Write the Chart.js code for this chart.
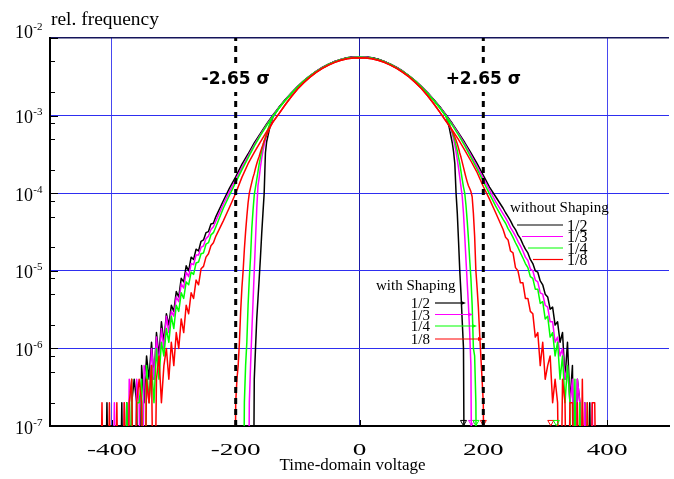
<!DOCTYPE html>
<html>
<head>
<meta charset="utf-8">
<script src="https://cdn.jsdelivr.net/npm/chart.js@4.4.1/dist/chart.umd.min.js"></script>
<style>
  html, body { margin: 0; padding: 0; background: #fff; }
  #wrap { width: 674px; height: 479px; position: relative; }
</style>
</head>
<body>
<div id="wrap"><canvas id="chart"></canvas></div>
<script>
// Amplitude histograms of the time-domain voltage, with and without shaping,
// for code rates 1/2, 1/3, 1/4, 1/8. Zero-count bins are stored as 0.

const RATES  = ['1/2', '1/3', '1/4', '1/8'];
const COLORS = ['#000000', '#ff00ff', '#00ff00', '#ff0000'];

const X_TICKS = [-400, -200, 0, 200, 400];
const Y_TICKS = [1e-7, 1e-6, 1e-5, 1e-4, 1e-3, 1e-2];
const Y_MINOR = [5e-3, 2e-3, 8e-4, 5e-4, 2e-4, 8e-5, 5e-5, 2e-5, 8e-6, 5e-6, 2e-6, 8e-7, 5e-7, 2e-7];

const SIGMA_X      = [-200, 200];
const SIGMA_LABELS = ['-2.65 σ', '+2.65 σ'];

// right-hand bins where the curves leave the plot at the bottom
const CLIP_X      = [168, 181, 188, 200, 309, 318];
const CLIP_COLORS = ['#000000', '#ff00ff', '#00ff00', '#ff0000', '#ff0000', '#00ff00'];
const CLIP_LEVEL  = 1.12e-7;

// bin centres, without shaping
const X_WIDE = [
  -420, -416, -412, -408, -404, -400, -396, -392, -388, -384,
  -380, -376, -372, -368, -364, -360, -356, -352, -348, -344,
  -340, -336, -332, -328, -324, -320, -316, -312, -308, -304,
  -300, -296, -292, -288, -284, -280, -276, -272, -268, -264,
  -260, -256, -252, -248, -244, -240, -236, -232,
  -220, -210, -200, -190, -180, -170, -160, -150, -140, -130, -120,
  -110, -100, -90, -80, -70, -60, -50, -40, -30, -20, -10,
  0,
  10, 20, 30, 40, 50, 60, 70, 80, 90, 100, 110,
  120, 130, 140, 150, 160, 170, 180, 190, 200, 210, 220,
  232, 236, 240, 244, 248, 252, 256, 260, 264, 268,
  272, 276, 280, 284, 288, 292, 296, 300, 304, 308,
  312, 316, 320, 324, 328, 332, 336, 340, 344, 348,
  352, 356, 360, 364, 368, 372, 376, 380, 384, 388, 392,
];

const NS_HALF = [
  0, 0, 0, 2e-7, 0, 0, 0, 0, 0, 2e-7,
  0, 2e-7, 0, 2e-7, 4e-7, 2e-7, 0, 6e-7, 2e-7, 8e-7,
  4e-7, 1.2e-6, 4e-7, 1.6e-6, 8e-7, 2.2e-6, 1.2e-6, 2.8e-6, 2e-6, 3.6e-6,
  3e-6, 5.4e-6, 4.6e-6, 8e-6, 7.2e-6, 1.16e-5, 1.0e-5, 1.5e-5, 1.4e-5, 1.9e-5,
  1.8e-5, 2.4e-5, 2.5e-5, 3.1e-5, 3.2e-5, 4e-5, 4.1e-5, 5e-5,
  8.0e-5, 1.16e-4, 1.62e-4, 2.35e-4, 3.2e-4, 4.45e-4, 5.9e-4, 7.8e-4, 1.01e-3, 1.28e-3, 1.6e-3,
  1.96e-3, 2.37e-3, 2.8e-3, 3.26e-3, 3.72e-3, 4.18e-3, 4.6e-3, 5.0e-3, 5.3e-3, 5.55e-3, 5.7e-3,
  5.75e-3,
  5.7e-3, 5.56e-3, 5.32e-3, 4.98e-3, 4.61e-3, 4.17e-3, 3.73e-3, 3.25e-3, 2.81e-3, 2.36e-3, 1.97e-3,
  1.6e-3, 1.29e-3, 1.02e-3, 7.9e-4, 6.0e-4, 4.5e-4, 3.3e-4, 2.4e-4, 1.7e-4, 1.2e-4, 9.0e-5,
  6.4e-5, 5.6e-5, 5e-5, 4.4e-5, 3.8e-5, 3.4e-5, 2.9e-5, 2.6e-5, 2.2e-5, 1.9e-5,
  1.7e-5, 1.4e-5, 1.24e-5, 1.0e-5, 9.6e-6, 7.4e-6, 6.6e-6, 5e-6, 4.6e-6, 3.2e-6,
  3.4e-6, 2e-6, 2.2e-6, 1.2e-6, 1.6e-6, 4e-7, 1.2e-6, 2e-7, 6e-7, 0,
  4e-7, 2e-7, 0, 2e-7, 0, 2e-7, 0, 0, 0, 0, 0,
];

const NS_THIRD = [
  0, 0, 0, 0, 0, 0, 2e-7, 0, 0, 0,
  2e-7, 0, 4e-7, 2e-7, 0, 4e-7, 2e-7, 0, 6e-7, 4e-7,
  2e-7, 1e-6, 4e-7, 1.4e-6, 6e-7, 1.8e-6, 1e-6, 2.6e-6, 1.6e-6, 3e-6,
  2.6e-6, 4.6e-6, 4e-6, 6.8e-6, 6e-6, 9.6e-6, 8.4e-6, 1.24e-5, 1.2e-5, 1.6e-5,
  1.6e-5, 2e-5, 2.1e-5, 2.6e-5, 2.8e-5, 3.4e-5, 3.7e-5, 4.4e-5,
  7.2e-5, 1.05e-4, 1.5e-4, 2.15e-4, 3.0e-4, 4.2e-4, 5.7e-4, 7.6e-4, 9.9e-4, 1.26e-3, 1.58e-3,
  1.94e-3, 2.35e-3, 2.79e-3, 3.24e-3, 3.7e-3, 4.15e-3, 4.57e-3, 4.95e-3, 5.27e-3, 5.5e-3, 5.63e-3,
  5.68e-3,
  5.64e-3, 5.5e-3, 5.26e-3, 4.95e-3, 4.58e-3, 4.14e-3, 3.7e-3, 3.23e-3, 2.79e-3, 2.35e-3, 1.95e-3,
  1.58e-3, 1.27e-3, 1.0e-3, 7.7e-4, 5.8e-4, 4.3e-4, 3.1e-4, 2.2e-4, 1.56e-4, 1.1e-4, 7.8e-5,
  5.4e-5, 4.8e-5, 4.2e-5, 3.6e-5, 3.2e-5, 2.8e-5, 2.4e-5, 2.1e-5, 1.8e-5, 1.5e-5,
  1.36e-5, 1.06e-5, 1.0e-5, 7.6e-6, 7.2e-6, 5.2e-6, 5e-6, 3.6e-6, 3.4e-6, 2.2e-6,
  2.2e-6, 1.2e-6, 1.4e-6, 8e-7, 1e-6, 4e-7, 6e-7, 2e-7, 4e-7, 0,
  4e-7, 2e-7, 0, 2e-7, 0, 0, 2e-7, 0, 0, 0, 0,
];

const NS_QUARTER = [
  0, 0, 0, 0, 0, 0, 0, 0, 0, 0,
  0, 2e-7, 0, 4e-7, 0, 2e-7, 2e-7, 4e-7, 0, 6e-7,
  2e-7, 6e-7, 2e-7, 1e-6, 4e-7, 1.2e-6, 8e-7, 1.8e-6, 1.2e-6, 2.6e-6,
  1.8e-6, 3.6e-6, 3e-6, 5.2e-6, 4.4e-6, 7.2e-6, 6.6e-6, 9.6e-6, 9e-6, 1.26e-5,
  1.3e-5, 1.66e-5, 1.7e-5, 2.2e-5, 2.3e-5, 2.9e-5, 3.1e-5, 3.7e-5,
  6.4e-5, 9.4e-5, 1.38e-4, 2.0e-4, 2.85e-4, 4.05e-4, 5.55e-4, 7.45e-4, 9.75e-4, 1.25e-3, 1.57e-3,
  1.93e-3, 2.34e-3, 2.78e-3, 3.23e-3, 3.69e-3, 4.13e-3, 4.55e-3, 4.93e-3, 5.25e-3, 5.48e-3, 5.61e-3,
  5.65e-3,
  5.61e-3, 5.48e-3, 5.24e-3, 4.93e-3, 4.55e-3, 4.13e-3, 3.69e-3, 3.23e-3, 2.78e-3, 2.34e-3, 1.93e-3,
  1.57e-3, 1.25e-3, 9.8e-4, 7.5e-4, 5.6e-4, 4.1e-4, 2.9e-4, 2.05e-4, 1.42e-4, 9.8e-5, 6.8e-5,
  4.6e-5, 4.1e-5, 3.5e-5, 3.1e-5, 2.7e-5, 2.3e-5, 2e-5, 1.7e-5, 1.46e-5, 1.24e-5,
  1.1e-5, 8.4e-6, 8e-6, 5.8e-6, 5.8e-6, 3.8e-6, 4e-6, 2.4e-6, 2.6e-6, 1.4e-6,
  1.6e-6, 8e-7, 1.2e-6, 4e-7, 8e-7, 2e-7, 6e-7, 2e-7, 0, 4e-7,
  0, 2e-7, 0, 0, 2e-7, 0, 0, 0, 0, 0, 0,
];

const NS_EIGHTH = [
  0, 2e-7, 0, 0, 2e-7, 0, 0, 2e-7, 0, 0,
  2e-7, 0, 2e-7, 4e-7, 0, 2e-7, 4e-7, 2e-7, 0, 4e-7,
  2e-7, 6e-7, 0, 4e-7, 8e-7, 2e-7, 6e-7, 1e-6, 4e-7, 1.2e-6,
  6e-7, 1.6e-6, 1e-6, 2.4e-6, 1.6e-6, 3.6e-6, 2.8e-6, 5.2e-6, 4.4e-6, 7.6e-6,
  6.6e-6, 1.06e-5, 1.14e-5, 1.5e-5, 1.66e-5, 2.1e-5, 2.3e-5, 2.8e-5,
  4.4e-5, 6.6e-5, 1.0e-4, 1.6e-4, 2.4e-4, 3.35e-4, 4.6e-4, 6.2e-4, 8.2e-4, 1.06e-3, 1.38e-3,
  1.76e-3, 2.2e-3, 2.66e-3, 3.13e-3, 3.6e-3, 4.05e-3, 4.47e-3, 4.85e-3, 5.16e-3, 5.4e-3, 5.53e-3,
  5.58e-3,
  5.54e-3, 5.4e-3, 5.17e-3, 4.86e-3, 4.48e-3, 4.06e-3, 3.61e-3, 3.15e-3, 2.68e-3, 2.23e-3, 1.8e-3,
  1.42e-3, 1.1e-3, 8.5e-4, 6.5e-4, 4.9e-4, 3.6e-4, 2.6e-4, 1.85e-4, 1.22e-4, 8.4e-5, 5.6e-5,
  3.4e-5, 2.7e-5, 2.5e-5, 1.8e-5, 1.7e-5, 1.1e-5, 1.0e-5, 7e-6, 7e-6, 4.4e-6,
  4.4e-6, 3e-6, 2.8e-6, 1.4e-6, 1.6e-6, 6e-7, 1.2e-6, 4e-7, 6e-7, 8e-7,
  2e-7, 4e-7, 2e-7, 0, 4e-7, 2e-7, 0, 2e-7, 2e-7, 0,
  2e-7, 0, 4e-7, 0, 2e-7, 0, 2e-7, 2e-7, 0, 0, 0,
];

// bin centres, with shaping
const X_SHAPED = [
  -212, -206, -202, -200, -198, -196, -194, -192, -190, -188,
  -186, -184, -182, -180, -178, -176, -174, -172, -170, -168,
  -166, -164, -162, -160, -158, -156, -154, -152, -150, -145, -140,
  -130, -120, -110, -100, -90, -80, -70, -60, -50, -40, -30, -20, -10,
  0,
  10, 20, 30, 40, 50, 60, 70, 80, 90, 100, 110, 120, 130,
  140, 145, 150, 152, 154, 156, 158, 160, 162, 164, 166,
  168, 170, 172, 174, 176, 178, 180, 182, 184, 186,
  188, 190, 192, 194, 196, 198, 200, 202, 206, 212,
];

const S_HALF = [
  0, 0, 0, 0, 0, 0, 0, 0, 0, 0,
  0, 0, 0, 0, 0, 0, 0, 0, 4e-7, 1.0e-6,
  2.4e-6, 4.4e-6, 8e-6, 1.5e-5, 3.0e-5, 5.5e-5, 1.0e-4, 3.3e-4, 4.6e-4, 7.0e-4, 9.5e-4,
  1.28e-3, 1.6e-3, 1.96e-3, 2.37e-3, 2.8e-3, 3.26e-3, 3.72e-3, 4.18e-3, 4.6e-3, 5.0e-3, 5.3e-3, 5.55e-3, 5.7e-3,
  5.75e-3,
  5.7e-3, 5.56e-3, 5.32e-3, 4.98e-3, 4.61e-3, 4.17e-3, 3.73e-3, 3.25e-3, 2.81e-3, 2.36e-3, 1.97e-3, 1.6e-3, 1.29e-3,
  9.8e-4, 7.0e-4, 4.4e-4, 3.4e-4, 2.4e-4, 1.0e-4, 5.5e-5, 2.4e-5, 1.0e-5, 5e-6, 2.2e-6,
  1e-6, 0, 0, 0, 0, 0, 0, 0, 0, 0,
  0, 0, 0, 0, 0, 0, 0, 0, 0, 0,
];

const S_THIRD = [
  0, 0, 0, 0, 0, 0, 0, 0, 0, 0,
  0, 0, 0, 0, 2e-7, 6e-7, 1.6e-6, 4e-6, 1.0e-5, 2.5e-5,
  6.3e-5, 1.25e-4, 1.6e-4, 2.2e-4, 2.8e-4, 3.5e-4, 4.2e-4, 4.9e-4, 5.6e-4, 7.6e-4, 9.6e-4,
  1.26e-3, 1.58e-3, 1.94e-3, 2.35e-3, 2.79e-3, 3.24e-3, 3.7e-3, 4.15e-3, 4.57e-3, 4.95e-3, 5.27e-3, 5.5e-3, 5.63e-3,
  5.68e-3,
  5.64e-3, 5.5e-3, 5.26e-3, 4.95e-3, 4.58e-3, 4.14e-3, 3.7e-3, 3.23e-3, 2.79e-3, 2.35e-3, 1.95e-3, 1.58e-3, 1.27e-3,
  9.8e-4, 7.8e-4, 5.8e-4, 5.0e-4, 4.2e-4, 3.4e-4, 2.7e-4, 2.1e-4, 1.6e-4, 1.2e-4, 9e-5,
  5.5e-5, 2.8e-5, 1.4e-5, 7e-6, 3.6e-6, 1.6e-6, 6e-7, 0, 0, 0,
  0, 0, 0, 0, 0, 0, 0, 0, 0, 0,
];

const S_QUARTER = [
  0, 0, 0, 0, 0, 0, 0, 0, 0, 0,
  2e-7, 6e-7, 1.2e-6, 3.6e-6, 8e-6, 1.5e-5, 3.5e-5, 6e-5, 9.5e-5, 1.2e-4,
  1.5e-4, 1.9e-4, 2.4e-4, 2.9e-4, 3.5e-4, 4.1e-4, 4.7e-4, 5.3e-4, 6.0e-4, 7.8e-4, 9.7e-4,
  1.25e-3, 1.57e-3, 1.93e-3, 2.34e-3, 2.78e-3, 3.23e-3, 3.69e-3, 4.13e-3, 4.55e-3, 4.93e-3, 5.25e-3, 5.48e-3, 5.61e-3,
  5.65e-3,
  5.61e-3, 5.48e-3, 5.24e-3, 4.93e-3, 4.55e-3, 4.13e-3, 3.69e-3, 3.23e-3, 2.78e-3, 2.34e-3, 1.93e-3, 1.57e-3, 1.25e-3,
  9.7e-4, 7.9e-4, 6.1e-4, 5.4e-4, 4.8e-4, 4.1e-4, 3.5e-4, 2.9e-4, 2.4e-4, 1.9e-4, 1.5e-4,
  1.2e-4, 1.0e-4, 7e-5, 4.4e-5, 2.6e-5, 1.4e-5, 8e-6, 3.6e-6, 1.0e-6, 8e-7,
  2e-7, 0, 0, 0, 0, 0, 0, 0, 0, 0,
];

const S_EIGHTH = [
  0, 0, 0, 2e-7, 4e-7, 6e-7, 1.2e-6, 3e-6, 6e-6, 1.0e-5,
  1.9e-5, 3.2e-5, 5e-5, 7.5e-5, 1.0e-4, 1.18e-4, 1.38e-4, 1.6e-4, 1.8e-4, 2.1e-4,
  2.4e-4, 2.7e-4, 3.0e-4, 3.4e-4, 3.8e-4, 4.2e-4, 4.7e-4, 5.1e-4, 5.6e-4, 6.9e-4, 8.3e-4,
  1.06e-3, 1.38e-3, 1.76e-3, 2.2e-3, 2.66e-3, 3.13e-3, 3.6e-3, 4.05e-3, 4.47e-3, 4.85e-3, 5.16e-3, 5.4e-3, 5.53e-3,
  5.58e-3,
  5.54e-3, 5.4e-3, 5.17e-3, 4.86e-3, 4.48e-3, 4.06e-3, 3.61e-3, 3.15e-3, 2.68e-3, 2.23e-3, 1.8e-3, 1.42e-3, 1.1e-3,
  8.4e-4, 7.4e-4, 6.3e-4, 5.8e-4, 5.3e-4, 4.8e-4, 4.3e-4, 3.8e-4, 3.3e-4, 2.9e-4, 2.5e-4,
  2.15e-4, 1.85e-4, 1.6e-4, 1.4e-4, 1.25e-4, 1.15e-4, 1.05e-4, 9e-5, 5.5e-5, 2.8e-5,
  1.0e-5, 6e-6, 3.4e-6, 1.6e-6, 8e-7, 4e-7, 2e-7, 0, 0, 0,
];

const NS_SERIES = [NS_HALF, NS_THIRD, NS_QUARTER, NS_EIGHTH];
const S_SERIES  = [S_HALF, S_THIRD, S_QUARTER, S_EIGHTH];

// empty bins have no log; put them under the axis floor so the line drops out
const EMPTY_BIN = 1e-9;
function points(xs, ys) {
  return xs.map((x, i) => ({ x, y: ys[i] > 0 ? ys[i] : EMPTY_BIN }));
}

const SERIF = '"Liberation Serif", "Times New Roman", serif';

const datasets = [];
SIGMA_X.forEach(sx => {
  datasets.push({
    data: [{ x: sx, y: Y_TICKS[0] }, { x: sx, y: Y_TICKS[Y_TICKS.length - 1] }],
    showLine: true, pointRadius: 0,
    borderColor: '#000', borderWidth: 3, borderDash: [6, 5],
    order: 0,
  });
});
datasets.push({
  data: CLIP_X.map(x => ({ x, y: CLIP_LEVEL })),
  showLine: false, pointStyle: 'triangle', rotation: 180,
  pointRadius: 3.5, pointBorderWidth: 1,
  pointBorderColor: CLIP_COLORS, pointBackgroundColor: 'rgba(255,255,255,0)',
  order: 0,
});
RATES.forEach((r, i) => {
  const common = {
    showLine: true, pointRadius: 0, borderWidth: 1.5,
    borderColor: COLORS[i], borderJoinStyle: 'round', fill: false,
  };
  datasets.push({ ...common, label: 'without ' + r, data: points(X_WIDE, NS_SERIES[i]), order: 7 - 2 * i });
  datasets.push({ ...common, label: 'with ' + r, data: points(X_SHAPED, S_SERIES[i]), order: 8 - 2 * i });
});

const decor = {
  id: 'decor',
  afterDatasetsDraw(chart) {
    const { ctx, chartArea: a, scales: { x, y } } = chart;
    ctx.save();

    // inward tick marks
    ctx.strokeStyle = '#000';
    ctx.lineWidth = 1;
    ctx.beginPath();
    Y_MINOR.forEach(v => {
      const py = Math.round(y.getPixelForValue(v)) + 0.5;
      ctx.moveTo(a.left, py); ctx.lineTo(a.left + 5, py);
    });
    Y_TICKS.forEach(v => {
      const py = Math.round(y.getPixelForValue(v)) + 0.5;
      ctx.moveTo(a.left, py); ctx.lineTo(a.left + 8, py);
    });
    X_TICKS.forEach(v => {
      const px = Math.round(x.getPixelForValue(v)) + 0.5;
      ctx.moveTo(px, a.bottom); ctx.lineTo(px, a.bottom - 6);
    });
    ctx.stroke();

    ctx.fillStyle = '#000';

    // y labels: 10 with a raised exponent
    ctx.textAlign = 'right';
    ctx.textBaseline = 'alphabetic';
    Y_TICKS.forEach(v => {
      const py = y.getPixelForValue(v);
      const shift = v === y.max ? -8 : 0;
      ctx.font = '11px ' + SERIF;
      ctx.fillText(String(Math.round(Math.log10(v))), a.left - 7.5, py - 0.5 + shift);
      ctx.font = '18px ' + SERIF;
      ctx.fillText('10', a.left - 17, py + 7.5 + shift);
    });

    // x labels, drawn horizontally stretched like the original
    ctx.textAlign = 'center';
    ctx.font = '17px ' + SERIF;
    X_TICKS.forEach(v => {
      ctx.save();
      ctx.translate(x.getPixelForValue(v), a.bottom + 29);
      ctx.scale(1.6, 1);
      ctx.fillText(String(v), 0, 0);
      ctx.restore();
    });

    // axis titles
    ctx.fillText('Time-domain voltage', 352.5, 470);
    ctx.save();
    ctx.textAlign = 'left';
    ctx.font = '18px ' + SERIF;
    ctx.translate(51, 25);
    ctx.scale(1.08, 1);
    ctx.fillText('rel. frequency', 0, 0);
    ctx.restore();

    // sigma labels on a white patch over the dashed lines
    ctx.font = 'bold 17px "DejaVu Sans", sans-serif';
    ctx.textAlign = 'center';
    ctx.textBaseline = 'middle';
    SIGMA_X.forEach((sx, i) => {
      const px = x.getPixelForValue(sx);
      const w = ctx.measureText(SIGMA_LABELS[i]).width;
      ctx.fillStyle = '#fff';
      ctx.fillRect(px - w / 2 - 2, a.top + 30, w + 4, 24);
      ctx.fillStyle = '#000';
      ctx.fillText(SIGMA_LABELS[i], px, a.top + 42);
    });

    // legend: without shaping
    ctx.textBaseline = 'alphabetic';
    ctx.textAlign = 'left';
    ctx.font = '15px ' + SERIF;
    ctx.fillText('without Shaping', 510, 211.5);
    const nsStart = [517, 522, 528, 533];
    const nsRow = [225, 236.5, 248, 259.5];
    ctx.font = '16px ' + SERIF;
    RATES.forEach((r, i) => {
      ctx.strokeStyle = COLORS[i];
      ctx.lineWidth = 1.2;
      ctx.beginPath();
      ctx.moveTo(nsStart[i], nsRow[i]); ctx.lineTo(563, nsRow[i]);
      ctx.stroke();
      ctx.fillStyle = '#000';
      ctx.fillText(r, 567, nsRow[i] + 5.5);
    });

    // legend: with shaping, arrows pointing at the curves
    ctx.font = '15px ' + SERIF;
    ctx.fillText('with Shaping', 376, 290);
    const sEnd = [466, 473, 477, 483];
    const sRow = [303, 314.5, 326, 339];
    ctx.textAlign = 'right';
    RATES.forEach((r, i) => {
      ctx.fillStyle = '#000';
      ctx.fillText(r, 430, sRow[i] + 5);
      ctx.strokeStyle = COLORS[i];
      ctx.fillStyle = COLORS[i];
      ctx.lineWidth = 1.2;
      ctx.beginPath();
      ctx.moveTo(435, sRow[i]); ctx.lineTo(sEnd[i] - 3, sRow[i]);
      ctx.stroke();
      ctx.beginPath();
      ctx.moveTo(sEnd[i], sRow[i]);
      ctx.lineTo(sEnd[i] - 5, sRow[i] - 2);
      ctx.lineTo(sEnd[i] - 5, sRow[i] + 2);
      ctx.closePath();
      ctx.fill();
    });

    ctx.restore();
  },
};

new Chart(document.getElementById('chart'), {
  type: 'scatter',
  data: { datasets },
  options: {
    responsive: true,
    maintainAspectRatio: false,
    animation: false,
    events: [],
    layout: { padding: { top: 38, left: 0, right: 0, bottom: 0 } },
    plugins: { legend: { display: false }, tooltip: { enabled: false } },
    scales: {
      x: {
        type: 'linear', min: -500, max: 500,
        afterBuildTicks: s => { s.ticks = X_TICKS.map(v => ({ value: v })); },
        afterFit: s => { s.height = 53; },
        ticks: { display: false },
        grid: {
          drawTicks: false,
          lineWidth: 1,
          color: c => {
            const v = c.tick && c.tick.value;
            if (v === 0) return '#1a1aa8';
            if (Math.abs(v) === 400) return '#4848f0';
            return 'rgba(0,0,0,0)';
          },
        },
        border: { color: '#000', width: 2 },
      },
      y: {
        type: 'logarithmic', min: 1e-7, max: 1e-2,
        afterBuildTicks: s => { s.ticks = Y_TICKS.map(v => ({ value: v })); },
        afterFit: s => { s.width = 50; },
        ticks: { display: false },
        grid: {
          drawTicks: false,
          lineWidth: c => (c.tick && c.tick.value === 1e-2 ? 1.5 : 1),
          color: c => {
            const v = c.tick && c.tick.value;
            if (v === 1e-2) return '#14145a';
            if (v === 1e-7) return 'rgba(0,0,0,0)';
            return '#2e2ef0';
          },
        },
        border: { color: '#000', width: 2 },
      },
    },
  },
  plugins: [decor],
});
</script>
</body>
</html>
